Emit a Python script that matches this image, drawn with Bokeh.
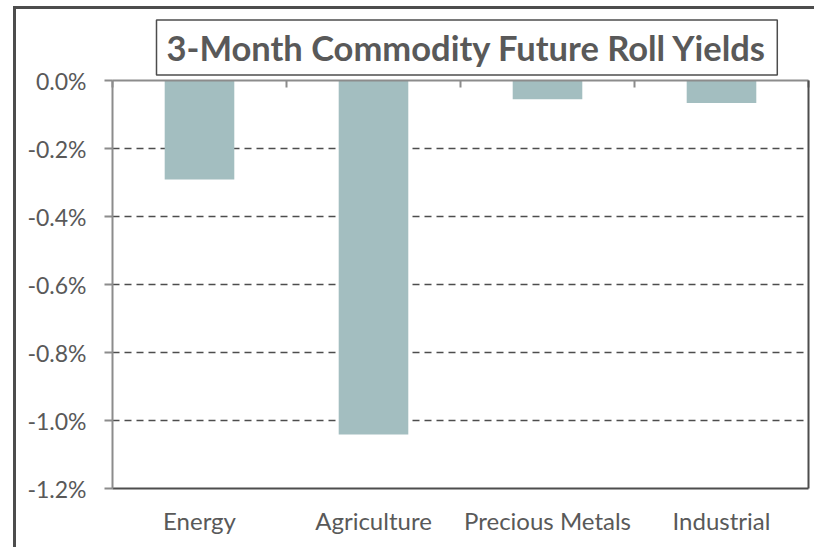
from bokeh.plotting import figure
from bokeh.models import (ColumnDataSource, Range1d, LinearAxis, FixedTicker,
                          NumeralTickFormatter, Title, Div, Spacer)
from bokeh.layouts import column, row
from bokeh.embed import file_html
from bokeh.resources import INLINE

# ---- data ----
categories = ["Energy", "Agriculture", "Precious Metals", "Industrial"]
roll_yields = [-0.00291, -0.01041, -0.00055, -0.00066]
y_ticks = [0.0, -0.002, -0.004, -0.006, -0.008, -0.010, -0.012]
title_text = "3-Month Commodity Future Roll Yields"

FONT = "Lato"
TXT = "#595959"
DARK = "#4d4d4d"
GRAY = "#8c8c8c"

n = len(categories)
centers = [i + 0.5 for i in range(n)]
src = ColumnDataSource(dict(x=centers, cat=categories, val=roll_yields, zero=[0.0] * n))

p = figure(x_range=Range1d(0, n), y_range=Range1d(-0.012, 0.0),
           frame_width=696, frame_height=408,
           min_border_left=96, min_border_top=71, min_border_right=6, min_border_bottom=59,
           output_backend="svg", toolbar_location=None)

p.outline_line_color = None
p.background_fill_color = "white"
p.border_fill_color = "white"

p.vbar(x="x", top="zero", bottom="val", width=0.40, source=src,
       fill_color="#A3BEC0", line_color=None)

# grid
p.xgrid.grid_line_color = None
p.ygrid.ticker = FixedTicker(ticks=y_ticks)
p.ygrid.grid_line_color = DARK
p.ygrid.grid_line_width = 1.5
p.ygrid.grid_line_dash = "7 5"

# left axis
ya = p.yaxis[0]
ya.ticker = FixedTicker(ticks=y_ticks)
ya.formatter = NumeralTickFormatter(format="0.0%")
ya.axis_line_color = GRAY
ya.axis_line_width = 2
ya.major_tick_line_color = GRAY
ya.major_tick_line_width = 2
ya.major_tick_out = 8
ya.major_tick_in = 0
ya.minor_tick_line_color = None
ya.major_label_standoff = 18
ya.major_label_text_font = FONT
ya.major_label_text_font_size = "23px"
ya.major_label_text_color = TXT

# bottom (category labels)
xa = p.xaxis[0]
xa.ticker = FixedTicker(ticks=centers)
xa.major_label_overrides = {c: lab for c, lab in zip(centers, categories)}
xa.axis_line_color = DARK
xa.axis_line_width = 2
xa.major_tick_line_color = None
xa.minor_tick_line_color = None
xa.major_tick_out = 0
xa.major_tick_in = 0
xa.major_label_standoff = 17
xa.major_label_text_font = FONT
xa.major_label_text_font_size = "24px"
xa.major_label_text_color = TXT

# top axis at zero with category boundary ticks
ta = LinearAxis(ticker=FixedTicker(ticks=list(range(n + 1))))
ta.axis_line_color = GRAY
ta.axis_line_width = 2
ta.major_tick_line_color = GRAY
ta.major_tick_line_width = 2
ta.major_tick_in = 7
ta.major_tick_out = 0
ta.minor_tick_line_color = None
ta.major_label_standoff = 0
ta.major_label_text_font_size = "0px"
ta.major_label_text_color = None
p.add_layout(ta, "above")

# right edge of plot area
ra = LinearAxis(ticker=FixedTicker(ticks=[]))
ra.axis_line_color = DARK
ra.axis_line_width = 2
ra.major_tick_line_color = None
ra.major_tick_out = 0
ra.major_tick_in = 0
ra.minor_tick_line_color = None
ra.major_label_standoff = 0
ra.major_label_text_font_size = "0px"
ra.major_label_text_color = None
p.add_layout(ra, "right")

# boxed title
p.title = Title(text=title_text, align="left", offset=44, standoff=11,
                text_font=FONT, text_font_style="bold", text_font_size="34.5px",
                text_color=TXT, border_line_color=DARK, border_line_width=1.5,
                background_fill_color="white", padding=(10, 7))

# outer chart frame edges (left and top)
top_edge = Div(text="", width=801, height=3, margin=0,
               styles={"background-color": DARK})
left_edge = Div(text="", width=3, height=538, margin=0,
                styles={"background-color": DARK})

layout = column(
    Spacer(width=814, height=6, margin=0),
    row(Spacer(width=13, height=3, margin=0), top_edge, spacing=0, margin=0),
    row(Spacer(width=13, height=538, margin=0), left_edge, p, spacing=0, margin=0),
    spacing=0, margin=0,
)

open("out.html", "w").write(file_html(layout, INLINE))
